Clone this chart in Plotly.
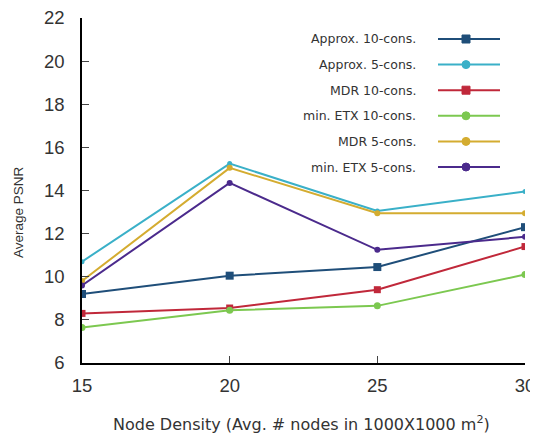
import plotly.graph_objects as go

x_vals = [15, 20, 25, 30]
series_names = ["Approx. 10-cons.", "Approx. 5-cons.", "MDR 10-cons.",
                "min. ETX 10-cons.", "MDR 5-cons.", "min. ETX 5-cons."]
approx10 = [9.2, 10.05, 10.45, 12.3]
approx5 = [10.7, 15.25, 13.05, 13.95]
mdr10 = [8.3, 8.55, 9.4, 11.4]
minetx10 = [7.65, 8.45, 8.65, 10.1]
mdr5 = [9.8, 15.05, 12.95, 12.95]
minetx5 = [9.6, 14.35, 11.25, 11.85]
y_ticks = [6, 8, 10, 12, 14, 16, 18, 20, 22]
x_ticks = [15, 20, 25, 30]
x_title = "Node Density (Avg. # nodes in 1000X1000 m<sup>2</sup>)"
y_title = "Average PSNR"

colors = ["#1f4e79", "#3ab0c8", "#c0283a", "#7cc850", "#d4ac30", "#4b2a8c"]
symbols = ["square", "circle", "square", "circle", "circle", "circle"]
sizes = [8, 5, 7, 7, 6, 6]
data = [approx10, approx5, mdr10, minetx10, mdr5, minetx5]

WIDE = "DejaVu Sans, Liberation Sans, Arial, sans-serif"
HELV = "Liberation Sans, Arial, sans-serif"

fig = go.Figure()
for name, ys, c, s, sz in zip(series_names, data, colors, symbols, sizes):
    fig.add_trace(go.Scatter(x=x_vals, y=ys, name=name, mode="lines+markers",
                             line=dict(color=c, width=2),
                             marker=dict(color=c, symbol=s, size=sz),
                             showlegend=False))

# page offset of 8px (body margin); plot area in page px: x 82-525, y 18-363
L0, T0, PW, PH = 82, 18, 443, 345
shapes = []
annotations = []
for i, (name, c, s) in enumerate(zip(series_names, colors, symbols)):
    py = 21 + 25.6 * i
    yp = 1 - py / PH
    annotations.append(dict(x=(418 - L0) / PW, y=yp, xref="paper", yref="paper", text=name,
                            showarrow=False, xanchor="right", yanchor="middle",
                            font=dict(size=12.5, color="#333333", family=WIDE)))
    shapes.append(dict(type="line", xref="paper", yref="paper",
                       x0=(438 - L0) / PW, x1=(500 - L0) / PW,
                       y0=yp, y1=yp, line=dict(color=c, width=2)))
    xm = (466 - L0) / PW
    dx = 4 / PW
    dy = 4 / PH
    shapes.append(dict(type="rect" if s == "square" else "circle", xref="paper", yref="paper",
                       x0=xm - dx, x1=xm + dx, y0=yp - dy, y1=yp + dy,
                       fillcolor=c, line=dict(color=c, width=1)))

annotations.append(dict(x=(301 - L0) / PW, y=1 - (423 - T0) / PH, xref="paper", yref="paper",
                        text=x_title, showarrow=False, xanchor="center", yanchor="middle",
                        font=dict(size=16, color="#333333", family=WIDE)))
annotations.append(dict(x=(18 - L0) / PW, y=1 - (212 - T0) / PH, xref="paper", yref="paper",
                        text=y_title, showarrow=False, xanchor="center", yanchor="middle",
                        textangle=-90, font=dict(size=13.5, color="#333333", family=HELV)))

fig.update_layout(
    width=530, height=429,
    margin=dict(l=74, r=13, t=10, b=74, autoexpand=False),
    plot_bgcolor="white", paper_bgcolor="white",
    font=dict(family=HELV, color="#333333"),
    shapes=shapes, annotations=annotations,
    xaxis=dict(range=[15, 30], tickvals=x_ticks, ticks="inside", ticklen=7,
               showline=True, linecolor="black", linewidth=1.5, showgrid=False,
               zeroline=False, tickfont=dict(size=18.5, family=HELV), automargin=False,
               ticklabelstandoff=5, ticklabeloverflow="allow"),
    yaxis=dict(range=[6, 22], tickvals=y_ticks, ticks="inside", ticklen=7,
               showline=True, linecolor="black", linewidth=1.5, showgrid=False,
               zeroline=False, tickfont=dict(size=18.5, family=HELV), automargin=False,
               ticklabelstandoff=12, ticklabeloverflow="allow"),
)

fig.write_html("out.html")
